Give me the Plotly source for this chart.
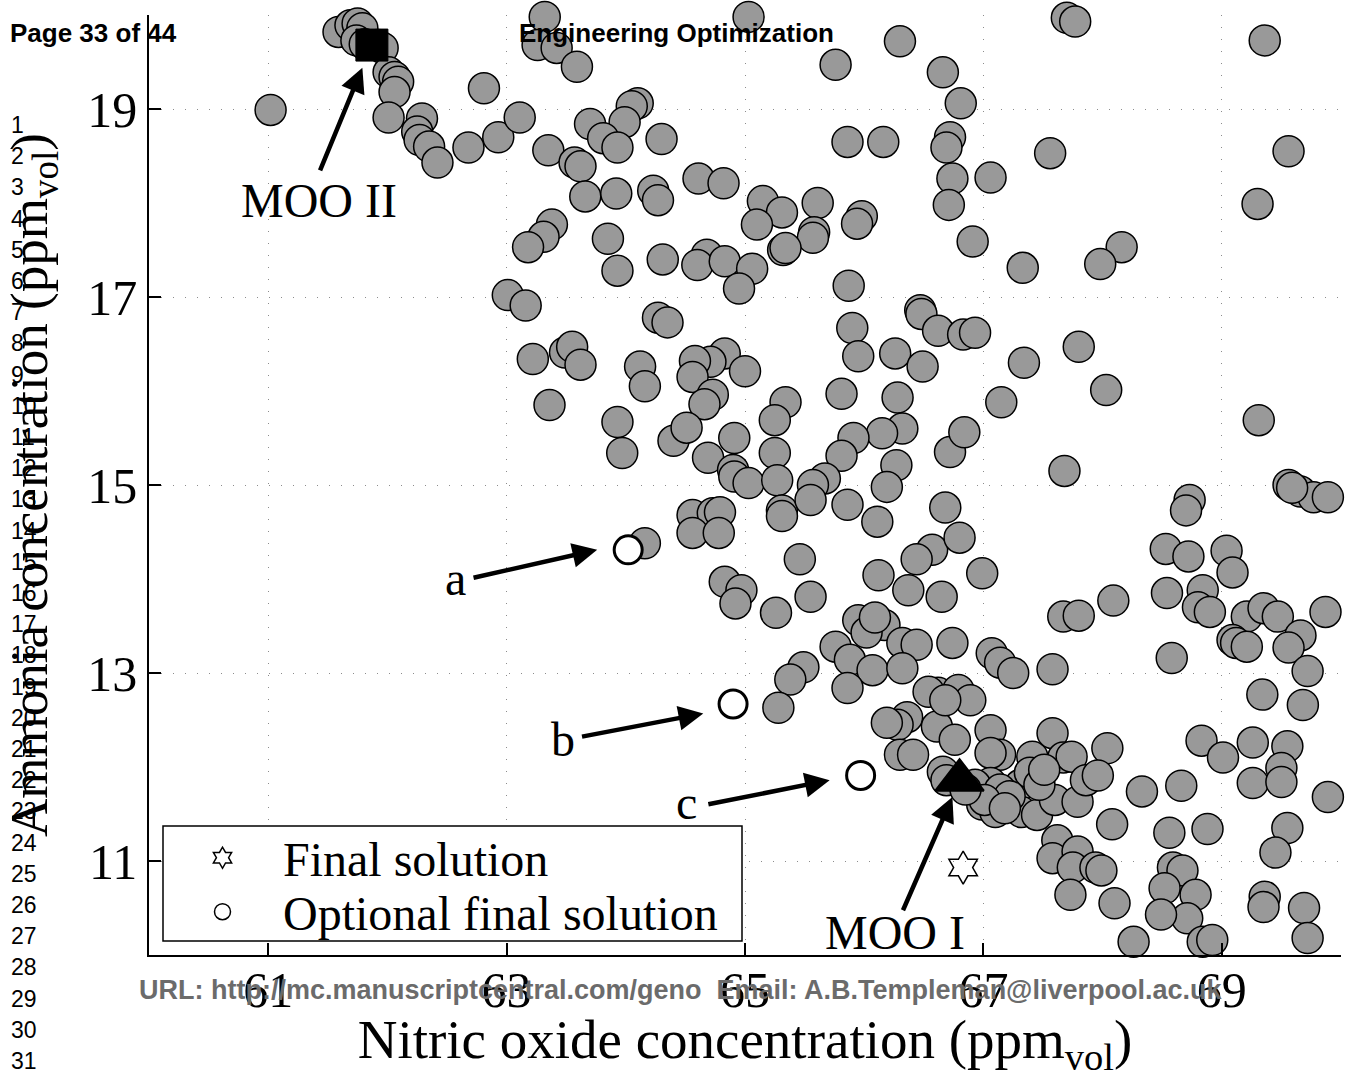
import plotly.graph_objects as go

# ---------------- data ----------------
# all evaluated solutions: nitric oxide (x) and ammonia (y) concentrations, ppm_vol
nox = [
    61.02, 61.59, 61.69, 61.75, 61.79, 61.74, 61.81, 61.92, 61.96, 62.01, 62.06, 62.09, 62.06, 62.01,
    62.29, 62.25, 62.27, 62.35, 62.42, 62.68, 62.93, 63.11, 62.81, 63.32, 63.26, 63.42, 63.59, 63.35,
    63.57, 63.62, 63.38, 63.31, 63.18, 63.01, 63.16, 63.22, 63.49, 63.55, 63.62, 63.36,
    65.03, 66.30, 65.76, 66.66, 66.81, 64.10, 64.05, 63.99, 63.70, 63.81, 63.93, 64.30, 63.66, 63.92,
    64.23, 64.27, 64.61, 64.82, 65.15, 65.31, 65.10, 65.61, 65.58, 65.57, 65.32, 65.34, 65.86, 66.16,
    66.72, 66.69, 66.74, 66.71, 65.98, 65.94, 66.91, 63.85, 63.93, 64.31, 64.68, 64.60, 64.83, 65.06,
    64.95, 65.87, 64.27, 64.35, 64.12, 64.16, 64.83, 64.71, 64.58, 64.56, 65.00, 64.73, 64.66, 63.93,
    63.97, 64.40, 64.51, 64.69, 64.91, 64.90, 64.91, 65.03, 65.34, 65.25, 65.25, 65.27, 65.90, 65.95,
    66.47, 66.48, 66.62, 66.83, 66.93, 66.26, 66.49, 65.81, 66.28, 66.32, 66.15, 65.91, 65.81, 66.27,
    66.19, 65.67, 65.57, 66.72, 66.84, 65.86,
    67.70, 67.77, 69.36, 67.06, 67.56, 69.56, 69.30, 67.33, 68.16, 67.98, 67.34, 67.80, 68.03, 67.15,
    67.68, 66.68, 68.73, 68.70, 69.31, 69.56, 69.66, 69.77, 69.89, 69.59,
    64.16, 64.56, 64.73, 64.79, 64.56, 64.78, 64.83, 64.97, 64.92, 65.26, 65.55, 65.46, 65.31, 65.31,
    65.55, 66.11, 66.57, 66.44, 66.80, 66.12, 66.37, 66.65, 65.95, 66.17, 66.02, 66.09, 65.76, 65.88,
    66.07, 65.86, 66.32, 66.44, 66.32, 66.74, 65.49, 65.38, 65.28, 66.62, 66.36, 66.28, 66.61, 66.30,
    66.41, 66.66,
    66.99, 68.53, 68.72, 69.04, 69.09, 68.54, 68.84, 68.80, 68.90, 69.21, 69.35, 69.47, 69.09, 69.12,
    69.21, 69.66, 69.56, 69.87, 69.72, 69.34, 69.68, 68.09, 67.67, 67.80, 68.58, 67.07, 67.14, 67.25,
    67.58, 66.54, 66.79, 66.89, 66.68, 66.19, 66.76, 67.06, 67.14, 67.06, 67.41, 67.58, 67.67, 67.74,
    68.04, 66.69, 67.06, 66.99, 67.10, 67.31, 67.32, 67.45, 67.39, 67.60, 67.79, 67.86, 67.96, 68.08,
    67.62, 67.58, 67.79, 67.75, 67.94, 67.99, 67.73, 68.10, 68.33, 68.66, 68.56, 68.88, 68.83, 69.01,
    69.26, 69.55, 69.26, 69.50, 69.50, 69.89, 69.55, 69.45, 68.59, 68.67, 68.52, 68.78, 68.71, 68.49,
    68.26, 68.84, 68.92, 69.36, 69.35, 69.69, 69.72,
    66.93, 67.14, 67.22, 67.01, 66.85, 67.18, 67.47, 67.51,
]
nh3 = [
    18.99, 19.82, 19.89, 19.91, 19.86, 19.73, 19.69, 19.68, 19.65, 19.39, 19.34, 19.29, 19.18, 18.91,
    18.90, 18.76, 18.67, 18.60, 18.43, 18.59, 18.70, 18.91, 19.22, 19.98, 19.68, 19.65, 19.45, 18.56,
    18.43, 18.39, 17.77, 17.64, 17.53, 17.02, 16.91, 16.34, 16.41, 16.47, 16.28, 15.85,
    19.98, 19.72, 19.47, 19.39, 19.06, 19.06, 19.03, 18.86, 18.84, 18.69, 18.59, 18.68, 18.07, 18.10,
    18.13, 18.03, 18.26, 18.21, 18.02, 17.90, 17.77, 18.00, 17.69, 17.63, 17.50, 17.52, 18.65, 18.65,
    18.70, 18.59, 18.26, 17.98, 17.86, 17.78, 17.59, 17.62, 17.28, 17.40, 17.45, 17.34, 17.38, 17.30,
    17.09, 17.12, 16.78, 16.73, 16.26, 16.05, 16.40, 16.31, 16.32, 16.15, 16.21, 15.96, 15.86, 15.67,
    15.34, 15.47, 15.61, 15.29, 15.50, 15.16, 15.09, 15.02, 15.88, 15.69, 15.34, 15.05, 16.67, 16.37,
    16.86, 16.82, 16.64, 16.60, 16.62, 16.40, 16.26, 15.97, 15.93, 15.60, 15.55, 15.50, 15.31, 15.21,
    14.98, 15.07, 15.00, 15.35, 15.56, 14.79,
    19.97, 19.93, 19.73, 18.27, 18.53, 18.55, 17.99, 17.31, 17.53, 17.35, 16.30, 16.47, 16.01, 15.88,
    15.15, 14.76, 14.84, 14.73, 15.69, 15.00, 14.93, 14.87, 14.87, 14.97,
    14.38, 14.68, 14.70, 14.71, 14.49, 14.49, 13.97, 13.88, 13.74, 13.64, 13.81, 14.21, 14.73, 14.67,
    14.84, 14.61, 14.31, 14.21, 14.44, 14.04, 13.88, 13.81, 13.56, 13.51, 13.43, 13.59, 13.28, 13.14,
    13.03, 12.84, 13.32, 13.30, 13.05, 13.32, 13.06, 12.93, 12.63, 12.79, 12.53, 12.45, 12.43, 12.13,
    12.13, 11.95,
    14.06, 14.32, 14.24, 14.30, 14.07, 13.85, 13.88, 13.70, 13.65, 13.60, 13.69, 13.60, 13.35, 13.32,
    13.28, 13.40, 13.27, 13.65, 13.02, 12.77, 12.66, 13.77, 13.60, 13.61, 13.16, 13.21, 13.11, 13.00,
    13.04, 12.80, 12.82, 12.71, 12.71, 12.47, 12.29, 12.39, 12.13, 12.15, 12.11, 12.36, 12.10, 12.11,
    12.20, 11.86, 11.83, 11.60, 11.52, 11.81, 11.52, 11.49, 11.94, 11.65, 11.63, 11.86, 11.91, 11.39,
    11.22, 11.03, 11.10, 10.93, 10.93, 10.90, 10.64, 10.55, 11.74, 11.80, 11.30, 11.34, 12.28, 12.10,
    12.26, 12.22, 11.83, 11.99, 11.84, 11.68, 11.35, 11.09, 10.93, 10.90, 10.71, 10.64, 10.39, 10.43,
    10.14, 10.14, 10.16, 10.62, 10.51, 10.50, 10.18,
    11.81, 11.76, 11.69, 11.65, 11.76, 11.56, 11.81, 11.97,
]

moo2_x, moo2_y = [61.87], [19.68]          # MOO II solution (square)
moo1_x, moo1_y = [66.80], [11.86]          # MOO I solution (triangle)
final_x, final_y = [66.83], [10.93]        # final solution (star)
opt_x = [64.02, 64.90, 65.97]              # optional final solutions a, b, c
opt_y = [14.31, 12.67, 11.91]
opt_labels = ["a", "b", "c"]

x_ticks = [61, 63, 65, 67, 69]
y_ticks = [11, 13, 15, 17, 19]

SERIF = "Liberation Serif, Times New Roman, serif"
SANS = "Liberation Sans, Arial, sans-serif"

W, H = 1345, 1078
L, R, T, B = 149, 4, 15, 123
PW, PH = W - L - R, H - T - B


def pxx(p):
    return (p - L) / PW


def pxy(p):
    return (H - B - p) / PH


fig = go.Figure()

fig.add_trace(go.Scatter(
    x=nox, y=nh3, mode="markers", showlegend=False, cliponaxis=False,
    marker=dict(symbol="circle", size=31, color="#999999", line=dict(color="black", width=1.5)),
))
fig.add_trace(go.Scatter(
    x=opt_x, y=opt_y, mode="markers", showlegend=False, cliponaxis=False,
    marker=dict(symbol="circle", size=28, color="white", line=dict(color="black", width=3)),
))
fig.add_trace(go.Scatter(
    x=final_x, y=final_y, mode="markers", showlegend=False, cliponaxis=False,
    marker=dict(symbol="hexagram-open", size=25, color="black", line=dict(color="black", width=1.5)),
))
fig.add_trace(go.Scatter(
    x=moo2_x, y=moo2_y, mode="markers", showlegend=False, cliponaxis=False,
    marker=dict(symbol="square", size=32, color="black", line=dict(color="black", width=1)),
))
fig.add_trace(go.Scatter(
    x=moo1_x, y=moo1_y, mode="markers", showlegend=False, cliponaxis=False,
    marker=dict(symbol="triangle-up", size=42, color="black", line=dict(color="black", width=2)),
))
# legend entries (one legend per row so that the rows sit as close as in the reference)
fig.add_trace(go.Scatter(
    x=[None], y=[None], mode="markers", name="Final solution", legend="legend",
    marker=dict(symbol="hexagram-open", size=18, color="black", line=dict(color="black", width=1.5)),
))
fig.add_trace(go.Scatter(
    x=[None], y=[None], mode="markers", name="Optional final solution", legend="legend2",
    marker=dict(symbol="circle-open", size=18, color="black", line=dict(color="black", width=1.5)),
))

ann = []
arrow_style = dict(showarrow=True, arrowhead=2, arrowsize=1.1, arrowwidth=4.5, arrowcolor="black",
                   xref="x", yref="y", axref="x", ayref="y", standoff=0, startstandoff=0, text="")
# arrows (tip -> tail)
arrows = [
    (61.79, 19.44, 61.43, 18.33),
    (63.76, 14.31, 62.71, 14.01),
    (64.65, 12.57, 63.62, 12.32),
    (65.71, 11.86, 64.68, 11.60),
    (66.74, 11.68, 66.32, 10.46),
]
for tx, ty, sx, sy in arrows:
    ann.append(dict(x=tx, y=ty, ax=sx, ay=sy, **arrow_style))

labels = [
    ("MOO II", 61.43, 18.03),
    ("a", 62.57, 14.01),
    ("b", 63.47, 12.29),
    ("c", 64.51, 11.62),
    ("MOO I", 66.26, 10.24),
]
for txt, lx, ly in labels:
    ann.append(dict(x=lx, y=ly, xref="x", yref="y", text=txt, showarrow=False,
                    font=dict(family=SERIF, size=48, color="black"),
                    xanchor="center", yanchor="middle"))

# manuscript page overlay
ann.append(dict(x=pxx(8), y=pxy(33), xref="paper", yref="paper", text="<b>Page 33 of 44</b>",
                showarrow=False, xanchor="left", yanchor="middle",
                font=dict(family=SANS, size=26, color="black")))
ann.append(dict(x=pxx(676), y=pxy(33), xref="paper", yref="paper", text="<b>Engineering Optimization</b>",
                showarrow=False, xanchor="center", yanchor="middle",
                font=dict(family=SANS, size=26, color="black")))
ann.append(dict(x=pxx(681), y=pxy(990), xref="paper", yref="paper",
                text="<b>URL: http://mc.manuscriptcentral.com/geno\u00a0 Email: A.B.Templeman@liverpool.ac.uk</b>",
                showarrow=False, xanchor="center", yanchor="middle",
                font=dict(family=SANS, size=27, color="#6b6b6b")))
for n in range(1, 32):
    ann.append(dict(x=pxx(9), y=pxy(125 + (n - 1) * 31.2), xref="paper", yref="paper", text=str(n),
                    showarrow=False, xanchor="left", yanchor="middle",
                    font=dict(family=SANS, size=23, color="black")))

legend_common = dict(xanchor="left", yanchor="middle", bgcolor="rgba(0,0,0,0)", borderwidth=0,
                     font=dict(family=SERIF, size=48, color="black"), itemwidth=111)

fig.update_layout(
    width=W, height=H, autosize=False,
    margin=dict(l=L, r=R, t=T, b=B, pad=0),
    paper_bgcolor="white", plot_bgcolor="white",
    xaxis=dict(
        range=[60, 70], tickvals=x_ticks, ticktext=[str(v) for v in x_ticks],
        ticks="inside", ticklen=12, tickwidth=1.5, tickcolor="black",
        showline=True, linecolor="black", linewidth=1.5, mirror=False,
        showgrid=True, gridcolor="#8c8c8c", griddash="1px,11px", gridwidth=1.2, zeroline=False,
        tickfont=dict(family=SERIF, size=50, color="black"), ticklabelstandoff=-10,
        title=dict(text="Nitric oxide concentration (ppm<sub>vol</sub>)",
                   font=dict(family=SERIF, size=55, color="black"), standoff=15),
        automargin=False,
    ),
    yaxis=dict(
        range=[10, 20], tickvals=y_ticks, ticktext=[str(v) for v in y_ticks],
        ticks="inside", ticklen=12, tickwidth=1.5, tickcolor="black",
        showline=True, linecolor="black", linewidth=1.5, mirror=False,
        showgrid=True, gridcolor="#8c8c8c", griddash="1px,11px", gridwidth=1.2, zeroline=False,
        tickfont=dict(family=SERIF, size=50, color="black"),
        title=dict(text="Ammonia concentration (ppm<sub>vol</sub>)",
                   font=dict(family=SERIF, size=53, color="black"), standoff=26),
        automargin=False,
    ),
    legend=dict(x=pxx(162), y=pxy(858), **legend_common),
    legend2=dict(x=pxx(162), y=pxy(912), **legend_common),
    shapes=[dict(type="rect", xref="paper", yref="paper", layer="above",
                 x0=pxx(163), x1=pxx(742), y0=pxy(941), y1=pxy(826),
                 fillcolor="white", line=dict(color="black", width=1.5))],
    annotations=ann,
)

fig.write_html("out.html")
